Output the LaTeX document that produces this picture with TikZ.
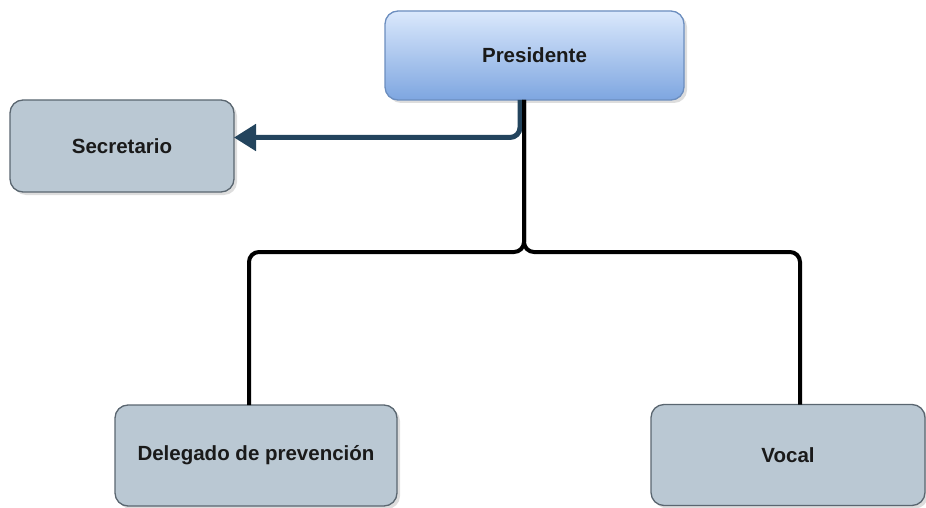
\documentclass[tikz,border=0pt]{standalone}
\usepackage{fontspec}
\setmainfont{Liberation Sans}
\usetikzlibrary{arrows.meta,shadows}
\definecolor{presTop}{HTML}{DAE8FC}
\definecolor{presBot}{HTML}{7EA6E0}
\definecolor{presLine}{HTML}{6C8EBF}
\definecolor{boxFill}{HTML}{BAC8D3}
\definecolor{boxLine}{HTML}{5A6670}
\definecolor{arrowBlue}{HTML}{23445D}
\definecolor{txt}{HTML}{1A1A1A}
\tikzset{
  box/.style={draw=boxLine, line width=1.3pt, fill=boxFill, rounded corners=13pt,
    outer sep=0pt, inner sep=0pt, text=txt,
    font=\fontsize{20.5}{24}\selectfont\bfseries,
    drop shadow={opacity=0.22, shadow xshift=3pt, shadow yshift=-3pt, fill=black!60}},
  presbox/.style={box, draw=presLine, top color=presTop, bottom color=presBot},
  conn/.style={draw=black, line width=4pt, rounded corners=10pt},
  secarrow/.style={draw=arrowBlue, line width=5pt, rounded corners=10pt,
    -{Triangle[length=22pt,width=26pt]}}
}
\begin{document}
\begin{tikzpicture}[x=1pt,y=-1pt]
\useasboundingbox (0,0) rectangle (926,508);
\node[presbox, minimum width=299pt, minimum height=89pt] (pres) at (534.5,55.5) {Presidente};
\node[box, minimum width=224pt, minimum height=92pt] (sec) at (122,146) {Secretario};
\node[box, minimum width=282pt, minimum height=101pt] (del) at (256,455.5) {Delegado de prevención};
\node[box, minimum width=274pt, minimum height=101pt] (voc) at (788,455) {Vocal};
\coordinate (arrY) at (0,137.5);
\coordinate (brY) at (0,252);
\draw[secarrow] ([xshift=-14.5pt]pres.south) |- (sec.east |- arrY);
\draw[conn] ([xshift=-10.5pt]pres.south) -- ([xshift=-10.5pt]pres.south |- brY) -| ([xshift=-7pt]del.north);
\draw[conn] ([xshift=-10.5pt]pres.south) -- ([xshift=-10.5pt]pres.south |- brY) -| ([xshift=12pt]voc.north);
\end{tikzpicture}
\end{document}
